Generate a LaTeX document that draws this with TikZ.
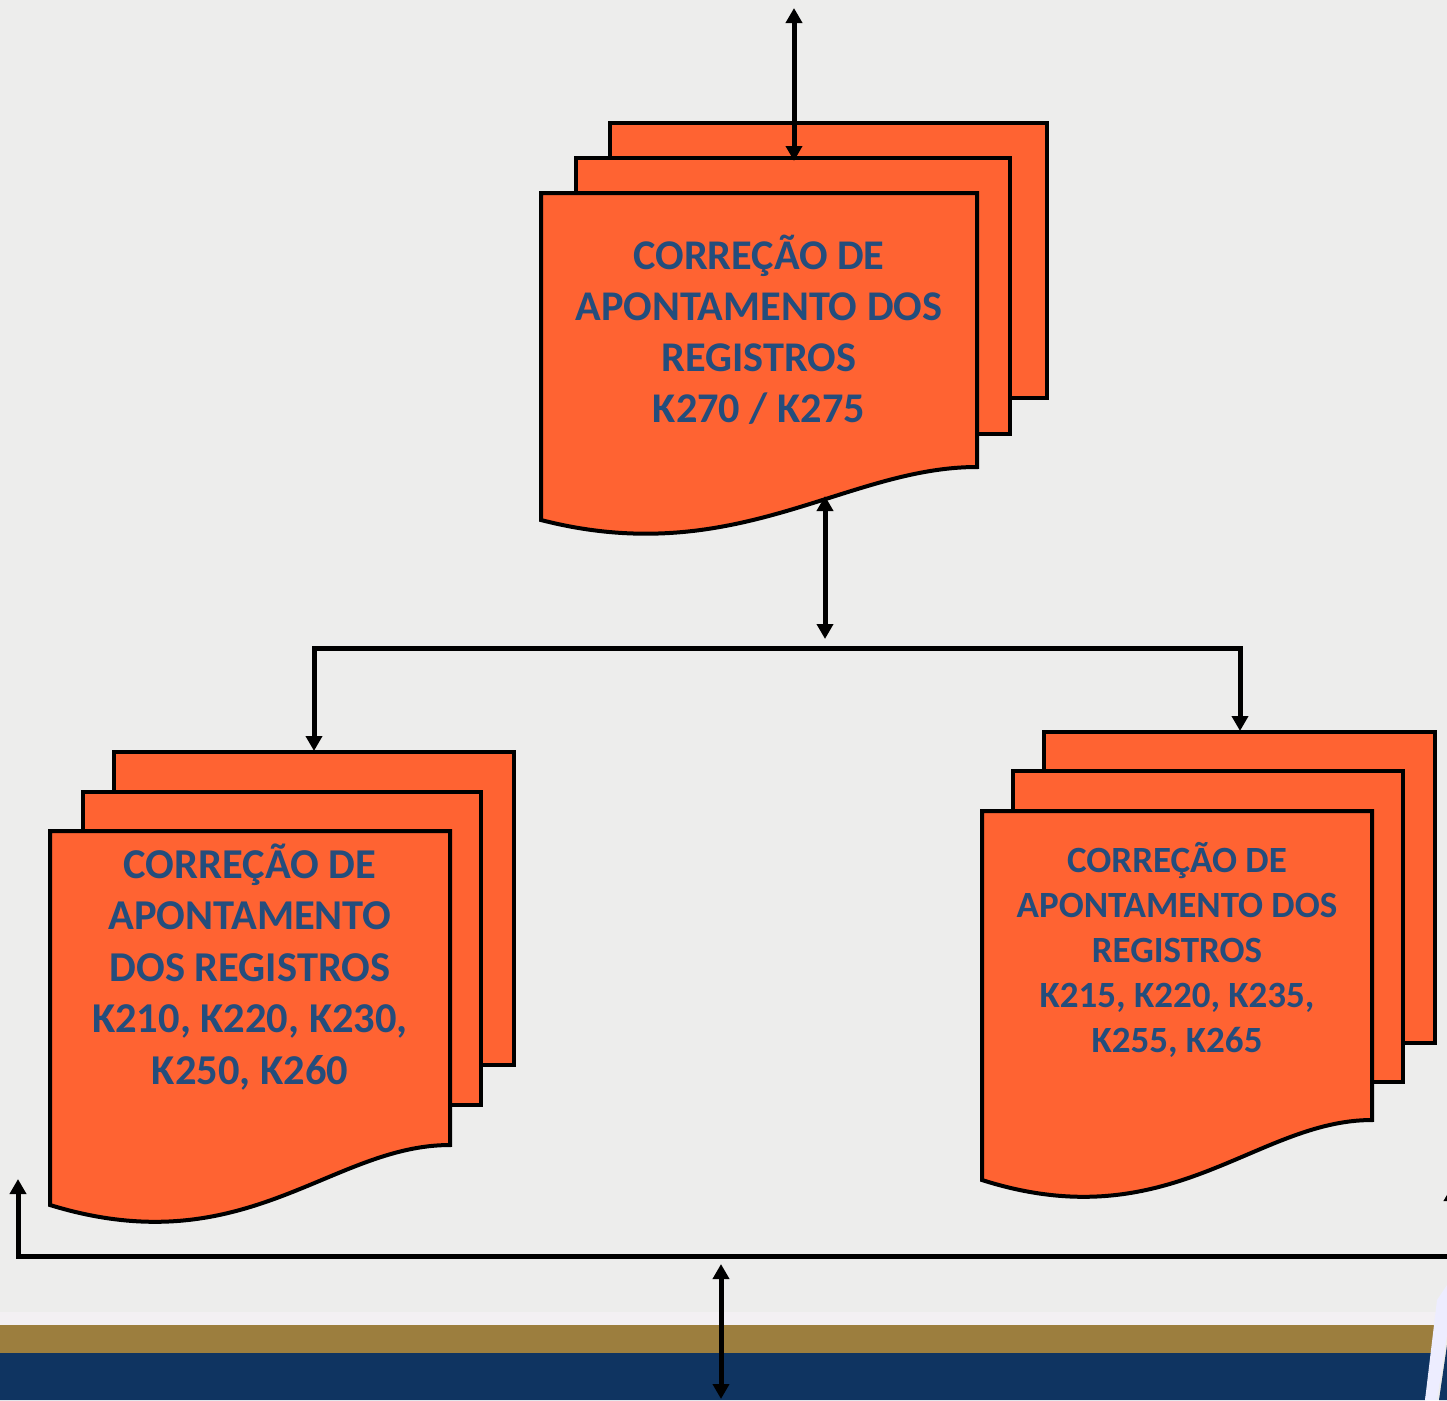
\documentclass[tikz,border=0pt]{standalone}
\usepackage{fontspec}
\setmainfont{Carlito}
\usetikzlibrary{arrows.meta}

\definecolor{paper}{RGB}{237,237,236}
\definecolor{sheet}{RGB}{255,99,50}
\definecolor{ink}{RGB}{36,77,124}
\definecolor{gold}{RGB}{156,126,62}
\definecolor{navy}{RGB}{15,52,97}
\definecolor{haze}{RGB}{243,240,243}

\tikzset{
  sheetbox/.style={draw=black, line width=4pt, fill=sheet, line join=miter},
  doctext/.style={text=ink, font=\bfseries, align=center, inner sep=0pt},
  link/.style={draw=black, line width=5pt, line join=miter},
  tipA/.tip={Triangle[length=15pt,width=16pt]},
  dbl/.style={link, tipA-tipA},
}

\begin{document}
\begin{tikzpicture}[x=1pt,y=-1pt]
  \useasboundingbox (0,0) rectangle (1447,1400);
  \clip (0,0) rectangle (1447,1400);

  % paper and footer bands
  \fill[paper] (0,0) rectangle (1447,1400);
  \fill[haze] (0,1312) rectangle (1440,1325);
  \fill[gold] (0,1325) -- (1437,1325) -- (1434,1353) -- (0,1353) -- cycle;
  \fill[navy] (0,1353) -- (1434,1353) -- (1425,1400) -- (0,1400) -- cycle;
  \fill[white!93!blue] (1437,1300) -- (1447,1285) -- (1447,1335) -- (1437,1400) -- (1425,1400) -- cycle;
  \fill[navy] (1447,1345) -- (1447,1400) -- (1439,1400) -- cycle;

  % top stack
  \path[sheetbox] (610,123) rectangle (1047,398);
  \path[sheetbox] (576,158) rectangle (1010,434);
  \path[sheetbox] (541,193) -- (977,193) -- (977,467)
     .. controls (845,467) and (735,570) .. (541,520) -- cycle;
  \node[doctext, font=\bfseries\fontsize{42.3}{51}\selectfont] (topText) at (759,330)
     {CORREÇÃO DE\\APONTAMENTO DOS\\REGISTROS\\K270 / K275};

  % left stack
  \path[sheetbox] (114,752) rectangle (514,1065);
  \path[sheetbox] (83,792) rectangle (481,1105);
  \path[sheetbox] (50,831) -- (450,831) -- (450,1145)
     .. controls (330,1145) and (245,1265) .. (50,1205) -- cycle;
  \node[doctext, font=\bfseries\fontsize{42.5}{51.5}\selectfont] (leftText) at (250,967)
     {CORREÇÃO DE\\APONTAMENTO\\DOS REGISTROS\\K210, K220, K230,\\K250, K260};

  % right stack
  \path[sheetbox] (1044,732) rectangle (1435,1043);
  \path[sheetbox] (1013,771) rectangle (1403,1082);
  \path[sheetbox] (982,811) -- (1372,811) -- (1372,1120)
     .. controls (1255,1120) and (1170,1240) .. (982,1180) -- cycle;
  \node[doctext, font=\bfseries\fontsize{37}{44.8}\selectfont] (rightText) at (1177,950)
     {CORREÇÃO DE\\APONTAMENTO DOS\\REGISTROS\\K215, K220, K235,\\K255, K265};

  % connector end points
  \coordinate (inTop)   at (794,8);
  \coordinate (topIn)   at (794,161);
  \coordinate (topOut)  at (825,496);
  \coordinate (hub)     at (825,639);
  \coordinate (split)   at (825,648);
  \coordinate (leftIn)  at (314,751);
  \coordinate (rightIn) at (1240,731);
  \coordinate (busL)    at (18,1179);
  \coordinate (busR)    at (1452,1186);
  \coordinate (busY)    at (720,1256);
  \coordinate (busTap)  at (721,1264);
  \coordinate (outBot)  at (721,1399);

  % connectors
  \draw[dbl] (inTop) -- (topIn);
  \draw[dbl] (topOut) -- (hub);
  \draw[link, tipA-tipA] (leftIn) |- (split) -| (rightIn);
  \draw[link, tipA-tipA] (busL) |- (busY) -| (busR);
  \draw[dbl] (busTap) -- (outBot);
\end{tikzpicture}
\end{document}
